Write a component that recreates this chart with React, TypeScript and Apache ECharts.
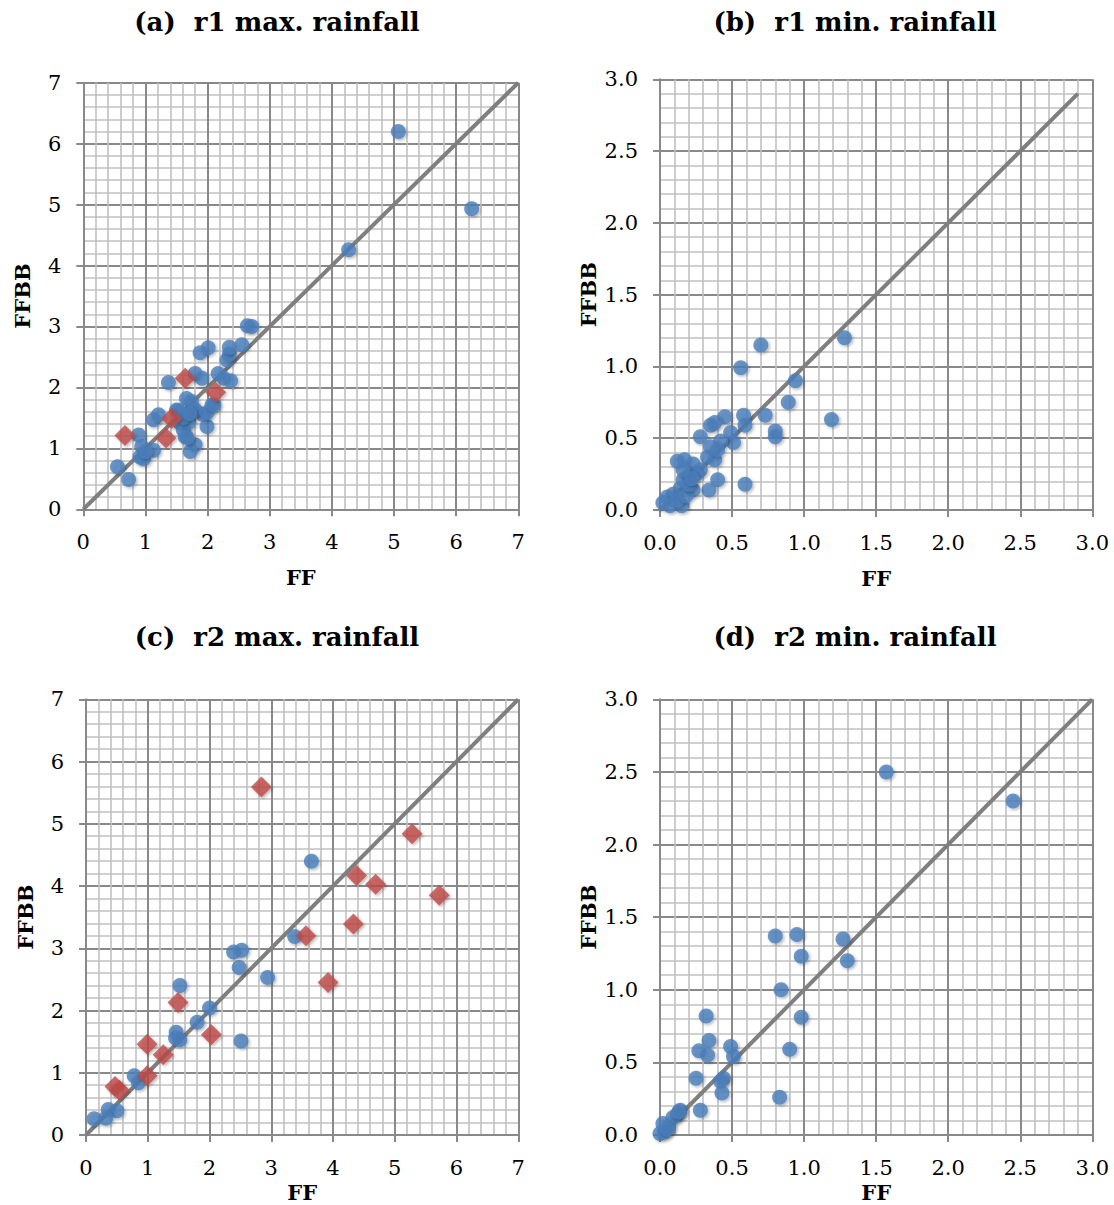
import React, { useEffect, useRef } from "react";
import * as echarts from "echarts";

// ---------- data ----------
const titles = ["(a)  r1 max. rainfall", "(b)  r1 min. rainfall", "(c)  r2 max. rainfall", "(d)  r2 min. rainfall"];
const xName = "FF";
const yName = "FFBB";

const aBlue: number[][] = [
  [0.55, 0.7], [0.73, 0.49], [0.89, 1.22], [0.94, 1.03], [0.91, 0.86], [0.97, 0.83], [1.13, 0.97], [1.0, 0.95],
  [1.13, 1.47], [1.21, 1.55], [1.37, 2.08], [1.5, 1.63], [1.56, 1.41], [1.61, 1.3], [1.64, 1.19], [1.66, 1.82],
  [1.7, 1.43], [1.74, 1.77], [1.8, 1.63], [1.8, 1.06], [1.72, 0.95], [1.93, 1.55], [1.99, 1.36], [2.07, 1.71],
  [1.8, 2.23], [1.91, 2.15], [1.88, 2.57], [2.01, 2.65], [2.17, 2.23], [2.26, 2.15], [2.37, 2.11], [2.31, 2.45],
  [2.35, 2.55], [2.35, 2.66], [2.55, 2.7], [2.64, 3.01], [2.71, 3.0], [4.27, 4.26], [5.07, 6.2], [6.25, 4.93],
  [1.53, 1.62], [1.61, 1.51], [1.78, 1.62], [1.67, 1.18], [1.71, 1.57], [1.99, 1.59], [2.1, 1.71],
];
const aRed: number[][] = [[0.67, 1.21], [1.33, 1.17], [1.42, 1.49], [1.64, 2.15], [2.13, 1.92]];

const bBlue: number[][] = [
  [1.28, 1.2], [0.7, 1.15], [0.56, 0.99], [0.94, 0.9], [0.89, 0.75], [1.19, 0.63], [0.73, 0.66], [0.8, 0.55],
  [0.8, 0.51], [0.58, 0.66], [0.59, 0.59], [0.45, 0.65], [0.35, 0.59], [0.38, 0.61], [0.49, 0.54], [0.51, 0.47],
  [0.42, 0.48], [0.28, 0.51], [0.35, 0.44], [0.33, 0.37], [0.38, 0.35], [0.4, 0.42], [0.12, 0.34], [0.17, 0.35],
  [0.23, 0.32], [0.28, 0.28], [0.16, 0.21], [0.2, 0.24], [0.4, 0.21], [0.34, 0.14], [0.59, 0.18], [0.23, 0.14],
  [0.14, 0.15], [0.09, 0.11], [0.05, 0.09], [0.02, 0.05], [0.07, 0.03], [0.15, 0.03], [0.12, 0.07], [0.18, 0.1],
  [0.2, 0.18], [0.25, 0.25], [0.16, 0.28], [0.22, 0.22],
];

const cBlue: number[][] = [
  [3.65, 4.4], [3.38, 3.19], [2.39, 2.94], [2.52, 2.97], [2.48, 2.69], [2.94, 2.53], [1.52, 2.4], [2.0, 2.04],
  [1.8, 1.81], [1.46, 1.65], [1.45, 1.56], [1.52, 1.53], [2.51, 1.51], [0.78, 0.95], [0.85, 0.84], [0.36, 0.41],
  [0.5, 0.39], [0.13, 0.26], [0.32, 0.27],
];
const cRed: number[][] = [
  [2.84, 5.59], [5.28, 4.84], [4.38, 4.17], [4.69, 4.03], [5.72, 3.85], [4.33, 3.39], [3.56, 3.2], [3.92, 2.45],
  [1.49, 2.13], [2.03, 1.61], [0.99, 1.46], [1.25, 1.29], [0.99, 0.95], [0.47, 0.78], [0.54, 0.72],
];

const dBlue: number[][] = [
  [1.57, 2.5], [2.45, 2.3], [0.8, 1.37], [0.95, 1.38], [1.27, 1.35], [0.98, 1.23], [1.3, 1.2], [0.84, 1.0],
  [0.98, 0.81], [0.32, 0.82], [0.34, 0.65], [0.27, 0.58], [0.33, 0.55], [0.49, 0.61], [0.51, 0.54], [0.9, 0.59],
  [0.25, 0.39], [0.44, 0.39], [0.42, 0.37], [0.43, 0.29], [0.83, 0.26], [0.28, 0.17], [0.14, 0.17], [0.12, 0.14],
  [0.09, 0.12], [0.02, 0.08], [0.06, 0.06], [0.0, 0.01], [0.03, 0.02], [0.13, 0.16], [0.05, 0.04],
];

const lineA: number[][] = [[0, 0], [7, 7]];
const lineB: number[][] = [[0, 0], [2.9, 2.9]];
const lineC: number[][] = [[0, 0], [7, 7]];
const lineD: number[][] = [[0, 0], [3, 3]];

const axisMax = [7, 3, 7, 3];
const axisInterval = [1, 0.5, 1, 0.5];

// ---------- styling ----------
const FONT = "'DejaVu Serif', 'Liberation Serif', serif";
const BLUE = "#4a7ebb";
const RED = "#be4b48";
const MAJOR = "#898989";
const MINOR = "#c0c0c0";

const grids = [
  { left: 83.3, top: 82.7, width: 435, height: 426.6 },
  { left: 660, top: 79.3, width: 432.3, height: 430.7 },
  { left: 86, top: 699.3, width: 432.3, height: 435.7 },
  { left: 660, top: 699.3, width: 432.3, height: 435.7 },
];
const titlePos = [[277, 22], [855, 22], [277, 637], [855, 637]];
const xNameGap = [58, 58, 47, 47];
const yNameGap = [50, 61, 50, 61];

const shadow = {
  shadowBlur: 3,
  shadowColor: "rgba(0,0,0,0.35)",
  shadowOffsetX: 1.5,
  shadowOffsetY: 1.5,
};

function fmt(i: number) {
  return (v: number) => (axisInterval[i] < 1 ? v.toFixed(1) : String(v));
}

function makeAxis(i: number, isX: boolean) {
  return {
    type: "value",
    gridIndex: i,
    min: 0,
    max: axisMax[i],
    interval: axisInterval[i],
    name: isX ? xName : yName,
    nameLocation: "middle",
    nameGap: isX ? xNameGap[i] : yNameGap[i],
    nameTextStyle: { fontFamily: FONT, fontWeight: "bold", fontSize: 21, color: "#000" },
    axisLine: { show: true, lineStyle: { color: MAJOR, width: 2 } },
    axisTick: { show: true, length: 7, lineStyle: { color: MAJOR, width: 2 } },
    axisLabel: { fontFamily: FONT, fontSize: 21, color: "#000", margin: 22, formatter: fmt(i) },
    splitLine: { show: true, lineStyle: { color: MAJOR, width: 2 } },
    minorTick: { show: false, splitNumber: 5 },
    minorSplitLine: { show: true, lineStyle: { color: MINOR, width: 1.6 } },
  };
}

function lineSeries(i: number, data: number[][]) {
  return {
    type: "line",
    xAxisIndex: i,
    yAxisIndex: i,
    data,
    symbol: "none",
    silent: true,
    lineStyle: { color: "#7f7f7f", width: 4 },
    z: 2,
  };
}

function scatter(i: number, data: number[][], red: boolean) {
  return {
    type: "scatter",
    xAxisIndex: i,
    yAxisIndex: i,
    data,
    symbol: red ? "diamond" : "circle",
    symbolSize: red ? 21 : 15,
    itemStyle: { color: red ? RED : BLUE, ...shadow },
    z: red ? 4 : 3,
  };
}

export default function App() {
  const ref = useRef<HTMLDivElement>(null);

  useEffect(() => {
    document.body.style.margin = "0";
    if (!ref.current) return;
    const chart = echarts.init(ref.current, null, { renderer: "svg" });
    const option = {
      animation: false,
      backgroundColor: "#ffffff",
      grid: grids.map((g) => ({ ...g, containLabel: false })),
      xAxis: [0, 1, 2, 3].map((i) => makeAxis(i, true)),
      yAxis: [0, 1, 2, 3].map((i) => makeAxis(i, false)),
      graphic: titles.map((t, i) => ({
        type: "text",
        x: titlePos[i][0],
        y: titlePos[i][1],
        style: {
          text: t,
          fontFamily: FONT,
          fontWeight: "bold",
          fontSize: 26,
          fill: "#000",
          textAlign: "center",
          textVerticalAlign: "middle",
        },
      })),
      series: [
        lineSeries(0, lineA),
        scatter(0, aBlue, false),
        scatter(0, aRed, true),
        lineSeries(1, lineB),
        scatter(1, bBlue, false),
        lineSeries(2, lineC),
        scatter(2, cBlue, false),
        scatter(2, cRed, true),
        lineSeries(3, lineD),
        scatter(3, dBlue, false),
      ],
    };
    chart.setOption(option as any);
    return () => chart.dispose();
  }, []);

  return <div ref={ref} style={{ width: 1114, height: 1205 }} />;
}
